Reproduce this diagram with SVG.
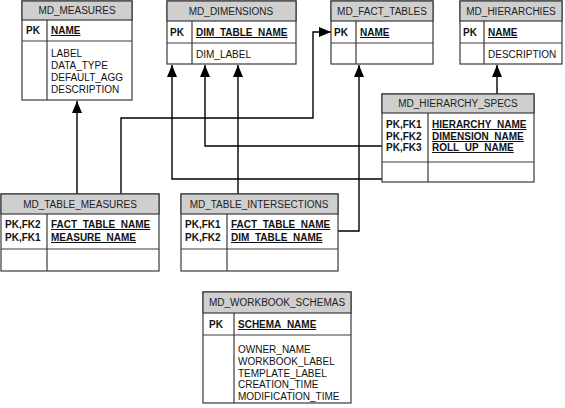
<svg xmlns="http://www.w3.org/2000/svg" width="565" height="408" viewBox="0 0 565 408">
<style>
.box{fill:#fff;stroke:#3a3a3a;stroke-width:1.2}
.hdr{fill:#cfcfcf;stroke:#3a3a3a;stroke-width:1.2}
.ln{stroke:#3a3a3a;stroke-width:1.2;fill:none}
text{font-family:"Liberation Sans",Arial,sans-serif;font-size:10px;fill:#111}
.t{text-anchor:middle;fill:#222}
.b{font-weight:bold}
.u{font-weight:bold;text-decoration:underline}
.c{stroke:#000;stroke-width:1.4;fill:none}
</style>
<defs>
<marker id="ah" markerWidth="12" markerHeight="10" refX="12" refY="5" orient="auto" markerUnits="userSpaceOnUse">
<path d="M0,0 L12,5 L0,10 Z" fill="#000"/>
</marker>
</defs>
<g id="connectors">
<path class="c" d="M77,194 V101" marker-end="url(#ah)"/>
<path class="c" d="M121,194 V118 H313 V32 H331" marker-end="url(#ah)"/>
<path class="c" d="M382,179 H172 V65" marker-end="url(#ah)"/>
<path class="c" d="M382,146 H205 V65" marker-end="url(#ah)"/>
<path class="c" d="M238,194 V65" marker-end="url(#ah)"/>
<path class="c" d="M338,231 H359 V65" marker-end="url(#ah)"/>
<path class="c" d="M497,94 V65" marker-end="url(#ah)"/>
</g>
<g id="md_measures">
<rect class="box" x="22" y="1" width="110" height="99"/>
<rect class="hdr" x="22" y="1" width="110" height="19"/>
<line class="ln" x1="22" y1="41" x2="132" y2="41"/>
<line class="ln" x1="47" y1="20" x2="47" y2="100"/>
<text class="t" x="77" y="14">MD_MEASURES</text>
<text class="b" x="26" y="34">PK</text>
<text class="u" x="51" y="34">NAME</text>
<text x="51" y="57">LABEL</text>
<text x="51" y="69">DATA_TYPE</text>
<text x="51" y="81">DEFAULT_AGG</text>
<text x="51" y="93">DESCRIPTION</text>
</g>
<g id="md_dimensions">
<rect class="box" x="167" y="1" width="129" height="63"/>
<rect class="hdr" x="167" y="1" width="129" height="20"/>
<line class="ln" x1="167" y1="43" x2="296" y2="43"/>
<line class="ln" x1="192" y1="21" x2="192" y2="64"/>
<text class="t" x="231" y="15">MD_DIMENSIONS</text>
<text class="b" x="170" y="36">PK</text>
<text class="u" x="196" y="36">DIM_TABLE_NAME</text>
<text x="196" y="58">DIM_LABEL</text>
</g>
<g id="md_fact_tables">
<rect class="box" x="331" y="1" width="102" height="63"/>
<rect class="hdr" x="331" y="1" width="102" height="20"/>
<line class="ln" x1="331" y1="43" x2="433" y2="43"/>
<line class="ln" x1="356" y1="21" x2="356" y2="64"/>
<text class="t" x="382" y="15">MD_FACT_TABLES</text>
<text class="b" x="334" y="36">PK</text>
<text class="u" x="360" y="36">NAME</text>
</g>
<g id="md_hierarchies">
<rect class="box" x="460" y="1" width="102" height="63"/>
<rect class="hdr" x="460" y="1" width="102" height="20"/>
<line class="ln" x1="460" y1="43" x2="562" y2="43"/>
<line class="ln" x1="484" y1="21" x2="484" y2="64"/>
<text class="t" x="511" y="15">MD_HIERARCHIES</text>
<text class="b" x="463" y="36">PK</text>
<text class="u" x="488" y="36">NAME</text>
<text x="488" y="58">DESCRIPTION</text>
</g>
<g id="md_hierarchy_specs">
<rect class="box" x="382" y="94" width="152" height="88"/>
<rect class="hdr" x="382" y="94" width="152" height="19"/>
<line class="ln" x1="382" y1="162" x2="534" y2="162"/>
<line class="ln" x1="428" y1="113" x2="428" y2="182"/>
<text class="t" x="458" y="107">MD_HIERARCHY_SPECS</text>
<text class="b" x="386" y="128">PK,FK1</text>
<text class="b" x="386" y="140">PK,FK2</text>
<text class="b" x="386" y="151">PK,FK3</text>
<text class="u" x="432" y="128">HIERARCHY_NAME</text>
<text class="u" x="432" y="140">DIMENSION_NAME</text>
<text class="u" x="432" y="151">ROLL_UP_NAME</text>
</g>
<g id="md_table_measures">
<rect class="box" x="1" y="194" width="158" height="77"/>
<rect class="hdr" x="1" y="194" width="158" height="20"/>
<line class="ln" x1="1" y1="249" x2="159" y2="249"/>
<line class="ln" x1="47" y1="214" x2="47" y2="271"/>
<text class="t" x="80" y="208">MD_TABLE_MEASURES</text>
<text class="b" x="5" y="228">PK,FK2</text>
<text class="b" x="5" y="241">PK,FK1</text>
<text class="u" x="51" y="228">FACT_TABLE_NAME</text>
<text class="u" x="51" y="241">MEASURE_NAME</text>
</g>
<g id="md_table_intersections">
<rect class="box" x="181" y="194" width="157" height="77"/>
<rect class="hdr" x="181" y="194" width="157" height="20"/>
<line class="ln" x1="181" y1="249" x2="338" y2="249"/>
<line class="ln" x1="227" y1="214" x2="227" y2="271"/>
<text class="t" x="259" y="208">MD_TABLE_INTERSECTIONS</text>
<text class="b" x="185" y="228">PK,FK1</text>
<text class="b" x="185" y="241">PK,FK2</text>
<text class="u" x="231" y="228">FACT_TABLE_NAME</text>
<text class="u" x="231" y="241">DIM_TABLE_NAME</text>
</g>
<g id="md_workbook_schemas">
<rect class="box" x="203" y="292" width="148" height="111"/>
<rect class="hdr" x="203" y="292" width="148" height="21"/>
<line class="ln" x1="203" y1="335" x2="351" y2="335"/>
<line class="ln" x1="234" y1="313" x2="234" y2="403"/>
<text class="t" x="277" y="306">MD_WORKBOOK_SCHEMAS</text>
<text class="b" x="209" y="328">PK</text>
<text class="u" x="238" y="328">SCHEMA_NAME</text>
<text x="238" y="353">OWNER_NAME</text>
<text x="238" y="365">WORKBOOK_LABEL</text>
<text x="238" y="377">TEMPLATE_LABEL</text>
<text x="238" y="388">CREATION_TIME</text>
<text x="238" y="400">MODIFICATION_TIME</text>
</g>
</svg>
